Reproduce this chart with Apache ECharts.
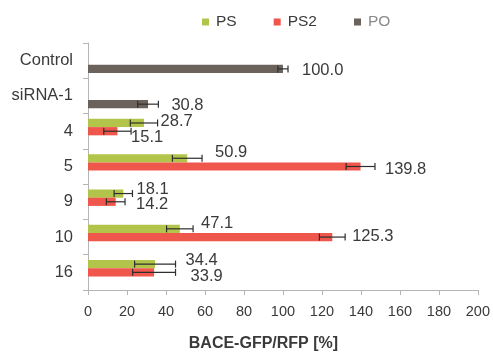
<!DOCTYPE html>
<html>
<head>
<meta charset="utf-8">
<script src="https://cdn.jsdelivr.net/npm/echarts@6/dist/echarts.min.js"></script>
<style>
  html, body { margin: 0; padding: 0; background: #fff; }
  #chart { width: 493px; height: 357px; }
</style>
</head>
<body>
<div id="chart"></div>
<script>
// Compounds tested (top to bottom)
var categories = ['Control', 'siRNA-1', '4', '5', '9', '10', '16'];
var seriesNames = ['PS', 'PS2', 'PO'];

// BACE-GFP/RFP ratio in percent, null where a treatment was not measured
var psValues  = [null, null, 28.7, 50.9, 18.1, 47.1, 34.4];
var ps2Values = [null, null, 15.1, 139.8, 14.2, 125.3, 33.9];
var poValues  = [100.0, 30.8, null, null, null, null, null];

// Error (± deviation) per bar
var psErrors  = [null, null, 7.0, 7.6, 4.7, 6.8, 10.5];
var ps2Errors = [null, null, 7.0, 7.4, 4.8, 6.6, 11.0];
var poErrors  = [2.6, 5.3, null, null, null, null, null];

// x-axis ticks
var xTicks = [0, 20, 40, 60, 80, 100, 120, 140, 160, 180, 200];

// Hand placement of value labels: [dx, dy] in pixels from the error bar end
var labelNudge = [
  [null, null, [3, -2], [13, -6], [4, -4], [8, -5], [10, -4]],
  [null, null, [0, 6], [10, 3], [11, 3], [7, -1], [15, 4]],
  [[14, 2], [13, 1], null, null, null, null, null]
];

var colors = ['#b2c54a', '#ef564c', '#6b625c'];
var FONT = '"Liberation Sans", Arial, sans-serif';
var TEXT = '#3a3a3a';
var CAT_GAP = 0.3;

var values = [psValues, ps2Values, poValues];
var errors = [psErrors, ps2Errors, poErrors];

var chart = echarts.init(document.getElementById('chart'));

var series = [];
values.forEach(function (vals, si) {
  series.push({
    name: seriesNames[si],
    type: 'bar',
    data: vals.map(function (v) { return v == null ? '-' : v; }),
    itemStyle: { color: colors[si] },
    barGap: '0%',
    barCategoryGap: (CAT_GAP * 100) + '%',
    silent: true,
    z: 2
  });
});

// Error bars and value labels, one custom series per bar series
values.forEach(function (vals, si) {
  var rows = [];
  vals.forEach(function (v, ci) {
    if (v != null) rows.push([v, ci, errors[si][ci]]);
  });
  series.push({
    type: 'custom',
    silent: true,
    z: 5,
    data: rows,
    renderItem: function (params, api) {
      var v = api.value(0), ci = api.value(1), e = api.value(2);
      var band = api.size([0, 1])[1];
      var w = band * (1 - CAT_GAP) / 3;
      var center = api.coord([0, ci])[1];
      var y = center - band * (1 - CAT_GAP) / 2 + (si + 0.5) * w;
      var x0 = api.coord([v - e, ci])[0];
      var x1 = api.coord([v + e, ci])[0];
      var cap = 3.5;
      var nudge = labelNudge[si][ci] || [8, 0];
      var ln = { stroke: '#2e2e2e', lineWidth: 1.2 };
      return {
        type: 'group',
        children: [
          { type: 'line', shape: { x1: x0, y1: y, x2: x1, y2: y }, style: ln },
          { type: 'line', shape: { x1: x0, y1: y - cap, x2: x0, y2: y + cap }, style: ln },
          { type: 'line', shape: { x1: x1, y1: y - cap, x2: x1, y2: y + cap }, style: ln },
          {
            type: 'text',
            x: x1 + nudge[0],
            y: y + nudge[1],
            style: {
              text: v.toFixed(1),
              fill: TEXT,
              font: '16.5px ' + FONT,
              textAlign: 'left',
              textVerticalAlign: 'middle'
            }
          }
        ]
      };
    }
  });
});

chart.setOption({
  animation: false,
  color: colors,
  textStyle: { fontFamily: FONT },
  legend: {
    top: 9,
    left: 197,
    itemWidth: 7,
    itemHeight: 7,
    itemGap: 37,
    icon: 'rect',
    data: [
      { name: 'PS', textStyle: { color: TEXT } },
      { name: 'PS2', textStyle: { color: TEXT } },
      { name: 'PO', textStyle: { color: '#8a8a8a' } }
    ],
    textStyle: { fontSize: 15.5, fontFamily: FONT, padding: [0, 0, 0, 2] }
  },
  grid: { left: 88, right: 13, top: 43, bottom: 56, containLabel: false },
  xAxis: {
    type: 'value',
    min: xTicks[0],
    max: xTicks[xTicks.length - 1],
    interval: xTicks[1] - xTicks[0],
    name: 'BACE-GFP/RFP [%]',
    nameLocation: 'middle',
    nameGap: 46,
    nameTextStyle: {
      fontSize: 16, fontWeight: 'bold', color: TEXT, fontFamily: FONT,
      padding: [0, 39, 0, 0]
    },
    axisLine: { show: true, lineStyle: { color: '#b5b5b5', width: 1 } },
    axisTick: { show: true, length: 5, lineStyle: { color: '#b5b5b5' } },
    axisLabel: { fontSize: 14.5, color: TEXT, margin: 14, fontFamily: FONT },
    splitLine: { show: false }
  },
  yAxis: {
    type: 'category',
    data: categories,
    inverse: true,
    axisLine: { show: true, lineStyle: { color: '#b5b5b5', width: 1 } },
    axisTick: { show: true, length: 5, lineStyle: { color: '#b5b5b5' } },
    axisLabel: { fontSize: 16.5, color: TEXT, margin: 15, fontFamily: FONT }
  },
  series: series
});
</script>
</body>
</html>
